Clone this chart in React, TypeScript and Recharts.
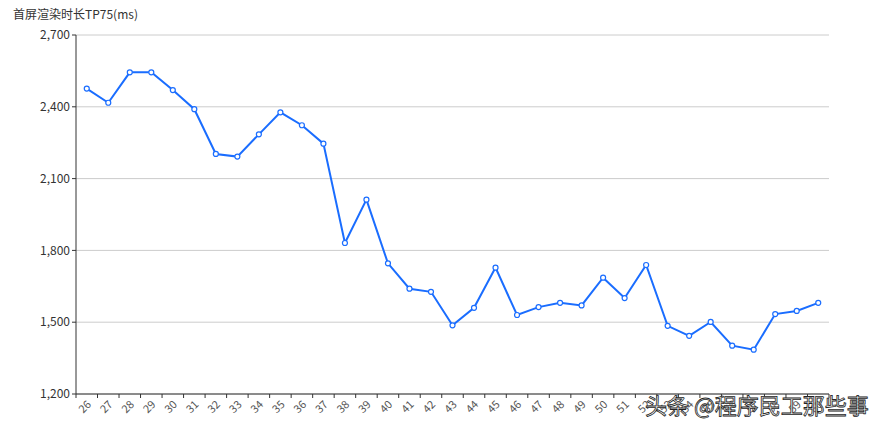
import React from "react";
import { LineChart, Line, XAxis, YAxis, CartesianGrid } from "recharts";

const weeks = [
  "26", "27", "28", "29", "30", "31", "32", "33", "34", "35", "36", "37",
  "38", "39", "40", "41", "42", "43", "44", "45", "46", "47", "48", "49",
  "50", "51", "52", "53", "54", "55", "56", "57", "58", "59", "60",
];
const tp75 = [
  2476, 2417, 2544, 2544, 2470, 2390, 2203, 2192, 2285, 2377, 2323, 2246,
  1831, 2012, 1746, 1640, 1627, 1487, 1560, 1728, 1530, 1563, 1581, 1570,
  1686, 1601, 1739, 1485, 1443, 1501, 1402, 1385, 1534, 1547, 1581,
];
const yTicks = [1200, 1500, 1800, 2100, 2400, 2700];

const data = weeks.map((w, i) => ({ week: w, value: tp75[i] }));

const W = 889;
const H = 427;
const M = { top: 35, right: 60, bottom: 0, left: 0 };
const Y_W = 76;
const X_H = 33;
const BAND = (W - M.left - M.right - Y_W) / weeks.length;
const FONT = "'Noto Sans CJK SC', 'Noto Sans', sans-serif";

const XTick = (props: any) => {
  const { x, y, payload, index } = props;
  const last = index === weeks.length - 1;
  return (
    <g>
      <line x1={x - BAND / 2} x2={x - BAND / 2} y1={y - 8} y2={y - 4} stroke="#333" />
      {last && <line x1={x + BAND / 2} x2={x + BAND / 2} y1={y - 8} y2={y - 4} stroke="#333" />}
      <text
        x={x + 3}
        y={y + 1}
        textAnchor="end"
        dominantBaseline="middle"
        transform={`rotate(-45 ${x + 3} ${y + 1})`}
        fontSize={11}
        fill="#555"
        fontFamily={FONT}
      >
        {payload.value}
      </text>
    </g>
  );
};

export default function App() {
  return (
    <div style={{ position: "absolute", left: 0, top: 0, width: W, height: H, background: "#fff" }}>
      <div
        style={{
          position: "absolute",
          left: 13,
          top: 5,
          fontSize: 12,
          color: "#333",
          fontFamily: FONT,
          lineHeight: "18px",
        }}
      >
        首屏渲染时长TP75(ms)
      </div>
      <LineChart width={W} height={H} data={data} margin={M}>
        <CartesianGrid vertical={false} stroke="#ccc" />
        <XAxis
          dataKey="week"
          scale="band"
          interval={0}
          height={X_H}
          axisLine={{ stroke: "#333" }}
          tickLine={false}
          tick={<XTick />}
        />
        <YAxis
          width={Y_W}
          domain={[1200, 2700]}
          ticks={yTicks}
          interval={0}
          axisLine={{ stroke: "#333" }}
          tickLine={{ stroke: "#333" }}
          tickSize={4}
          tickFormatter={(v: number) => v.toLocaleString("en-US")}
          tick={{ fontSize: 12, fill: "#333", fontFamily: FONT }}
        />
        <Line
          type="linear"
          dataKey="value"
          stroke="#1a6dff"
          strokeWidth={2}
          dot={{ r: 2.5, fill: "#fff", stroke: "#1a6dff", strokeWidth: 1.2 }}
          activeDot={false}
          isAnimationActive={false}
        />
      </LineChart>
      <div
        style={{
          position: "absolute",
          left: 645,
          top: 389,
          fontSize: 22,
          color: "#fff",
          WebkitTextStroke: "0.8px #222",
          fontFamily: FONT,
          whiteSpace: "nowrap",
          lineHeight: "30px",
        }}
      >
        头条 @程序民工那些事
      </div>
    </div>
  );
}
